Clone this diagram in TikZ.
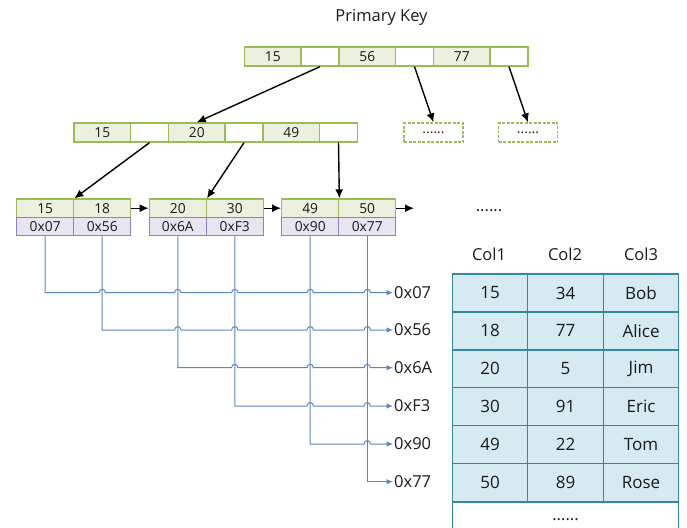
\documentclass[tikz,border=0pt]{standalone}
\usepackage{fontspec}
\setmainfont{Open Sans}
\usetikzlibrary{arrows.meta}
\definecolor{gborder}{HTML}{9BBB59}
\definecolor{gfill}{HTML}{EBF1DE}
\definecolor{pborder}{HTML}{8C82C0}
\definecolor{pfill}{HTML}{E8E5F1}
\definecolor{tborder}{HTML}{3489A0}
\definecolor{tfill}{HTML}{D5EBF1}
\definecolor{pline}{HTML}{5B86C6}
\definecolor{ink}{HTML}{1A1A1A}
\tikzset{
  cell/.style={draw, line width=1.3pt, inner sep=0pt, minimum height=19pt, text=ink,
    font=\fontsize{13.8}{13.8}\selectfont},
  keycell/.style={cell, draw=gborder, fill=gfill, minimum width=56.5pt},
  blankcell/.style={cell, draw=gborder, fill=white, minimum width=38pt},
  leafkey/.style={cell, draw=gborder, fill=gfill, minimum width=57pt, minimum height=18.3pt},
  leafptr/.style={cell, draw=pborder, fill=pfill, minimum width=57pt, minimum height=18.3pt},
  dashbox/.style={cell, draw=gborder, dashed, dash pattern=on 3pt off 1.5pt, fill=white, minimum width=59pt},
  tcell/.style={draw=tborder, fill=tfill, line width=1.3pt, inner sep=0pt, minimum width=75.5pt,
    minimum height=37.9pt, text=ink, font=\fontsize{17}{17}\selectfont},
  lbl/.style={inner sep=0pt, text=ink, font=\fontsize{16.5}{16.5}\selectfont},
  hexlbl/.style={lbl, anchor=west, inner sep=1pt},
  tree/.style={draw=black, line width=1.4pt, -{Latex[length=9pt,width=8pt]}},
  ptr/.style={draw=pline, line width=1pt, -{Latex[length=6.5pt,width=5.5pt]}},
}
\begin{document}
\begin{tikzpicture}[x=1pt,y=-1pt]
\useasboundingbox (0,0) rectangle (687,527);
\begin{scope}
\clip (0,0) rectangle (687,527);
% title
\node[lbl] (title) at (381.5,17) {Primary Key};
% root
\node[keycell]   (r1) at (272.75,56.5) {15};
\node[blankcell] (rb1) at (320,56.5) {};
\node[keycell]   (r2) at (367.25,56.5) {56};
\node[blankcell] (rb2) at (414.5,56.5) {};
\node[keycell]   (r3) at (461.75,56.5) {77};
\node[blankcell] (rb3) at (509,56.5) {};
% level 2
\node[keycell]   (m1) at (102.25,132.5) {15};
\node[blankcell] (mb1) at (149.5,132.5) {};
\node[keycell]   (m2) at (196.75,132.5) {20};
\node[blankcell] (mb2) at (244,132.5) {};
\node[keycell]   (m3) at (291.25,132.5) {49};
\node[blankcell] (mb3) at (338.5,132.5) {};
\node[dashbox] (d1) at (433.5,132.5) {......};
\node[dashbox] (d2) at (528,132.5) {......};
% leaves
\node[leafkey] (l1a) at (45.2,208.2) {15};
\node[leafkey] (l1b) at (102.2,208.2) {18};
\node[leafptr] (p1) at (45.2,226.5) {0x07};
\node[leafptr] (p2) at (102.2,226.5) {0x56};
\node[leafkey] (l2a) at (177.8,208.2) {20};
\node[leafkey] (l2b) at (234.8,208.2) {30};
\node[leafptr] (p3) at (177.8,226.5) {0x6A};
\node[leafptr] (p4) at (234.8,226.5) {0xF3};
\node[leafkey] (l3a) at (310.2,208.2) {49};
\node[leafkey] (l3b) at (367.2,208.2) {50};
\node[leafptr] (p5) at (310.2,226.5) {0x90};
\node[leafptr] (p6) at (367.2,226.5) {0x77};
\coordinate (lend) at (414,208.2);
% tree arrows
\draw[tree] (rb1.south) -- (m2.north);
\draw[tree] (rb2.south) -- (d1.north);
\draw[tree] (rb3.south) -- (d2.north);
\draw[tree] (mb1.south) -- (l1a.north east);
\draw[tree] (mb2.south) -- (l2a.north east);
\draw[tree] (mb3.south) -- (l3a.north east);
\draw[tree] (l1b.east) -- (l2a.west);
\draw[tree] (l2b.east) -- (l3a.west);
\draw[tree] (l3b.east) -- (lend);
\node[lbl] (dots) at (489,211) {......};
% hex labels
\node[hexlbl] (h1) at (393,292.7) {0x07};
\node[hexlbl] (h2) at (393,330) {0x56};
\node[hexlbl] (h3) at (393,367.7) {0x6A};
\node[hexlbl] (h4) at (393,406) {0xF3};
\node[hexlbl] (h5) at (393,444) {0x90};
\node[hexlbl] (h6) at (393,481.7) {0x77};
% pointer lines with hops
\foreach \i/\yy/\rest in {1/292.7/{102.2,177.8,234.8,310.2,367.2},
                          2/330/{177.8,234.8,310.2,367.2},
                          3/367.7/{234.8,310.2,367.2},
                          4/406/{310.2,367.2},
                          5/444/{367.2}} {
  \draw[ptr] (p\i.south) -- (p\i.south |- h\i.west)
    \foreach \x in \rest { -- (\x-3.2,\yy) .. controls +(0,-4.5) and +(0,-4.5) .. (\x+3.2,\yy) }
    -- (h\i.west);
}
\draw[ptr] (p6.south) -- (p6.south |- h6.west) -- (h6.west);
% table
\node[lbl] (c1) at (489,254.5) {Col1};
\node[lbl] (c2) at (565,254.5) {Col2};
\node[lbl] (c3) at (641,254.5) {Col3};
\foreach \r/\a/\b/\c [count=\k] in {0/15/34/Bob, 1/18/77/Alice, 2/20/5/Jim, 3/30/91/Eric, 4/49/22/Tom, 5/50/89/Rose} {
  \node[tcell] (t\k a) at (490.05,293+37.9*\r) {\a};
  \node[tcell] (t\k b) at (565.55,293+37.9*\r) {\b};
  \node[tcell] (t\k c) at (641.05,293+37.9*\r) {\c};
}
\node[draw=tborder, line width=1.3pt, fill=white, minimum width=226.5pt, minimum height=50pt,
  inner sep=0pt, anchor=north] (tmore) at (565.55,501.4) {};
\node[lbl] (tdots) at (565.5,520) {......};
\end{scope}
\end{tikzpicture}
\end{document}
